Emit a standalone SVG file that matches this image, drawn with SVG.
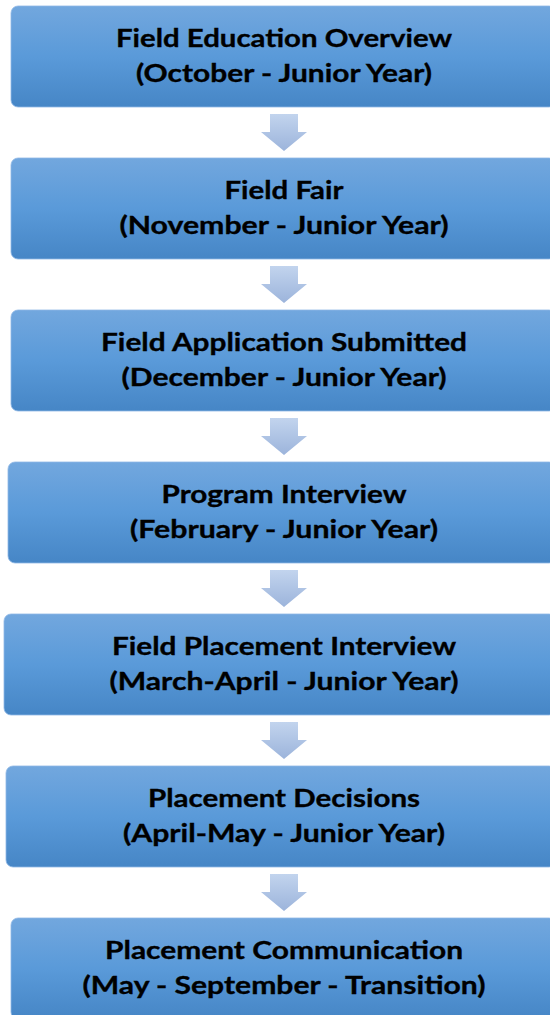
<svg xmlns="http://www.w3.org/2000/svg" width="550" height="1015" viewBox="0 0 550 1015">
  <defs>
    <linearGradient id="boxFill" x1="0" y1="0" x2="0" y2="1">
      <stop offset="0" stop-color="#72a7de"/>
      <stop offset="0.5" stop-color="#5a9ad9"/>
      <stop offset="1" stop-color="#4686c6"/>
    </linearGradient>
    <linearGradient id="arrowFill" x1="0" y1="0" x2="0" y2="1">
      <stop offset="0" stop-color="#c2d4ee"/>
      <stop offset="1" stop-color="#9cb4db"/>
    </linearGradient>
    <path id="downArrow" d="M270,0 H298 V18 H307 L284,37 L261,18 H270 Z"/>
  </defs>
  <style>
    .box { fill: url(#boxFill); stroke: #8fb8e6; stroke-width: 0.8; }
    .arrow { fill: url(#arrowFill); }
    .label { font-family: Lato, "Open Sans", "Liberation Sans", sans-serif; font-weight: bold; font-size: 25.5px; fill: #000000; stroke: #000000; stroke-width: 0.35; text-anchor: middle; }
  </style>
  <rect width="550" height="1015" fill="#ffffff"/>

  <!-- connectors between steps -->
  <g id="connectors">
    <use href="#downArrow" class="arrow" y="114"/>
    <use href="#downArrow" class="arrow" y="266"/>
    <use href="#downArrow" class="arrow" y="418"/>
    <use href="#downArrow" class="arrow" y="570"/>
    <use href="#downArrow" class="arrow" y="722"/>
    <use href="#downArrow" class="arrow" y="874"/>
  </g>

  <g id="step-overview">
    <rect class="box" x="11" y="6" width="545" height="101" rx="7"/>
    <text class="label" x="284" y="47" textLength="336" lengthAdjust="spacingAndGlyphs">Field Education Overview</text>
    <text class="label" x="284" y="82" textLength="296" lengthAdjust="spacingAndGlyphs">(October - Junior Year)</text>
  </g>

  <g id="step-fair">
    <rect class="box" x="11" y="158" width="545" height="101" rx="7"/>
    <text class="label" x="284" y="199" textLength="119" lengthAdjust="spacingAndGlyphs">Field Fair</text>
    <text class="label" x="284" y="234" textLength="329" lengthAdjust="spacingAndGlyphs">(November - Junior Year)</text>
  </g>

  <g id="step-application">
    <rect class="box" x="11" y="310" width="545" height="101" rx="7"/>
    <text class="label" x="284" y="351" textLength="366" lengthAdjust="spacingAndGlyphs">Field Application Submitted</text>
    <text class="label" x="284" y="386" textLength="325" lengthAdjust="spacingAndGlyphs">(December - Junior Year)</text>
  </g>

  <g id="step-program-interview">
    <rect class="box" x="8" y="462" width="548" height="101" rx="7"/>
    <text class="label" x="284" y="503" textLength="245" lengthAdjust="spacingAndGlyphs">Program Interview</text>
    <text class="label" x="284" y="538" textLength="308" lengthAdjust="spacingAndGlyphs">(February - Junior Year)</text>
  </g>

  <g id="step-placement-interview">
    <rect class="box" x="4" y="614" width="552" height="101" rx="7"/>
    <text class="label" x="284" y="655" textLength="344" lengthAdjust="spacingAndGlyphs">Field Placement Interview</text>
    <text class="label" x="284" y="690" textLength="349" lengthAdjust="spacingAndGlyphs">(March-April - Junior Year)</text>
  </g>

  <g id="step-decisions">
    <rect class="box" x="6" y="766" width="550" height="101" rx="7"/>
    <text class="label" x="284" y="807" textLength="272" lengthAdjust="spacingAndGlyphs">Placement Decisions</text>
    <text class="label" x="284" y="842" textLength="322" lengthAdjust="spacingAndGlyphs">(April-May - Junior Year)</text>
  </g>

  <g id="step-communication">
    <rect class="box" x="11" y="918" width="545" height="101" rx="7"/>
    <text class="label" x="284" y="959" textLength="358" lengthAdjust="spacingAndGlyphs">Placement Communication</text>
    <text class="label" x="284" y="994" textLength="403" lengthAdjust="spacingAndGlyphs">(May - September - Transition)</text>
  </g>
</svg>
